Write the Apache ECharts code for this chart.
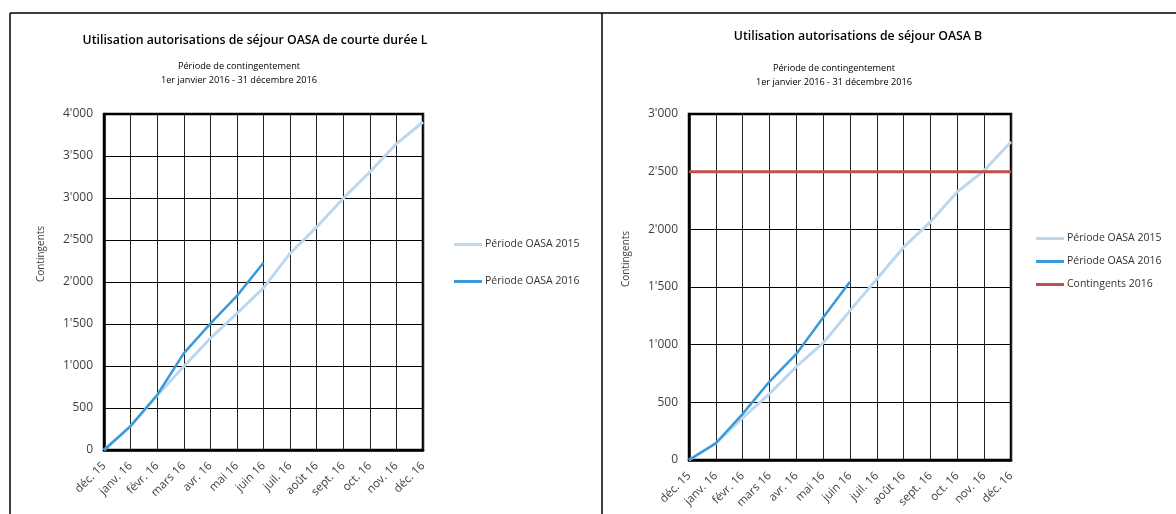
<!DOCTYPE html>
<html>
<head>
<meta charset="utf-8">
<script src="https://cdn.jsdelivr.net/npm/echarts@6/dist/echarts.min.js"></script>
<style>
html,body{margin:0;padding:0;background:#fff;}
#c{width:1176px;height:514px;}
</style>
</head>
<body>
<div id="c"></div>
<script>
const months = ["déc. 15","janv. 16","févr. 16","mars 16","avr. 16","mai 16","juin 16","juil. 16","août 16","sept. 16","oct. 16","nov. 16","déc. 16"];

// Chart L
const L_2015 = [0, 285, 650, 995, 1330, 1625, 1930, 2340, 2655, 2995, 3310, 3645, 3905];
const L_2016 = [0, 285, 655, 1150, 1505, 1835, 2230];

// Chart B
const B_2015 = [0, 145, 365, 575, 810, 1015, 1295, 1570, 1845, 2065, 2325, 2510, 2760];
const B_2016 = [0, 145, 400, 680, 920, 1235, 1545];
const B_cont = [2500, 2500, 2500, 2500, 2500, 2500, 2500, 2500, 2500, 2500, 2500, 2500, 2500];

const titles = {
  L: "Utilisation autorisations de séjour OASA de courte durée L",
  B: "Utilisation autorisations de séjour OASA B",
  sub1: "Période de contingentement",
  sub2: "1er janvier 2016 - 31 décembre 2016"
};
const names = {s15: "Période OASA 2015", s16: "Période OASA 2016", cont: "Contingents 2016"};

const cLight = '#BDD7EE', cDark = '#3A9AD9', cRed = '#C0504D';
const FONT = '"Open Sans", "Noto Sans", sans-serif';

function fmt(v){ return String(v).replace(/\B(?=(\d{3})+(?!\d))/g, "'"); }

const chart = echarts.init(document.getElementById('c'), null, {renderer:'canvas'});

function xAx(gi){
  return {
    type:'category', gridIndex:gi, data:months, boundaryGap:false,
    axisLine:{show:true, lineStyle:{color:'#000', width:2.5}},
    axisTick:{show:false},
    splitLine:{show:true, lineStyle:{color:'#222', width:1}},
    axisLabel:{interval:0, rotate:45, color:'#404040', fontSize:11.5, fontFamily:FONT, margin:14}
  };
}
function yAx(gi, max, gap){
  return {
    type:'value', gridIndex:gi, min:0, max:max, interval:500,
    name:'Contingents', nameLocation:'middle', nameGap:gap,
    nameTextStyle:{color:'#404040', fontSize:10, fontFamily:FONT, padding:[0,0,0,56]},
    axisLine:{show:true, lineStyle:{color:'#000', width:2.5}},
    axisTick:{show:false},
    splitLine:{show:true, lineStyle:{color:'#000', width:1}},
    axisLabel:{color:'#404040', fontSize:12, fontFamily:FONT, margin:11, formatter:fmt}
  };
}

const option = {
  animation:false,
  backgroundColor:'#fff',
  grid:[
    {left:104, top:114, width:319, height:336, show:true, borderColor:'#000', borderWidth:2.5, backgroundColor:'#fff'},
    {left:689, top:114, width:322, height:346, show:true, borderColor:'#000', borderWidth:2.5, backgroundColor:'#fff'}
  ],
  xAxis:[xAx(0), xAx(1)],
  yAxis:[yAx(0, 4000, 58), yAx(1, 3000, 58)],
  legend:[
    {orient:'vertical', left:454, top:239, padding:0, itemWidth:28, itemHeight:3, itemGap:26, icon:'rect',
     textStyle:{fontSize:10.5, fontFamily:FONT, color:'#333', padding:[0,0,0,-2]},
     data:[names.s15 + ' ', names.s16 + ' ']},
    {orient:'vertical', left:1036, top:233, padding:0, itemWidth:28, itemHeight:3, itemGap:12, icon:'rect',
     textStyle:{fontSize:10.5, fontFamily:FONT, color:'#333', padding:[0,0,0,-2]},
     data:[names.s15, names.s16, names.cont]}
  ],
  series:[
    {name:names.s15 + ' ', type:'line', xAxisIndex:0, yAxisIndex:0, data:L_2015, showSymbol:false, lineStyle:{color:cLight, width:3}, itemStyle:{color:cLight}, z:3},
    {name:names.s16 + ' ', type:'line', xAxisIndex:0, yAxisIndex:0, data:L_2016, showSymbol:false, lineStyle:{color:cDark, width:2.5}, itemStyle:{color:cDark}, z:4},
    {name:names.s15, type:'line', xAxisIndex:1, yAxisIndex:1, data:B_2015, showSymbol:false, lineStyle:{color:cLight, width:3}, itemStyle:{color:cLight}, z:3},
    {name:names.s16, type:'line', xAxisIndex:1, yAxisIndex:1, data:B_2016, showSymbol:false, lineStyle:{color:cDark, width:2.5}, itemStyle:{color:cDark}, z:4},
    {name:names.cont, type:'line', xAxisIndex:1, yAxisIndex:1, data:B_cont, showSymbol:false, lineStyle:{color:cRed, width:3}, itemStyle:{color:cRed}, z:5}
  ],
  graphic:[
    {type:'line', shape:{x1:10, y1:13, x2:1176, y2:13}, style:{stroke:'#000', lineWidth:1.5}, z:10},
    {type:'line', shape:{x1:10, y1:13, x2:10, y2:514}, style:{stroke:'#000', lineWidth:1.5}, z:10},
    {type:'line', shape:{x1:602, y1:13, x2:602, y2:514}, style:{stroke:'#000', lineWidth:1.5}, z:10},
    {type:'text', x:255, y:40, style:{text:titles.L, textAlign:'center', textVerticalAlign:'middle', font:'600 12.3px ' + FONT, fill:'#000'}},
    {type:'text', x:239, y:66, style:{text:titles.sub1, textAlign:'center', textVerticalAlign:'middle', font:'9.2px ' + FONT, fill:'#000'}},
    {type:'text', x:239, y:80, style:{text:titles.sub2, textAlign:'center', textVerticalAlign:'middle', font:'9.2px ' + FONT, fill:'#000'}},
    {type:'text', x:858, y:36, style:{text:titles.B, textAlign:'center', textVerticalAlign:'middle', font:'600 12.3px ' + FONT, fill:'#000'}},
    {type:'text', x:834, y:68, style:{text:titles.sub1, textAlign:'center', textVerticalAlign:'middle', font:'9.2px ' + FONT, fill:'#000'}},
    {type:'text', x:834, y:82, style:{text:titles.sub2, textAlign:'center', textVerticalAlign:'middle', font:'9.2px ' + FONT, fill:'#000'}}
  ]
};
chart.setOption(option);
</script>
</body>
</html>
